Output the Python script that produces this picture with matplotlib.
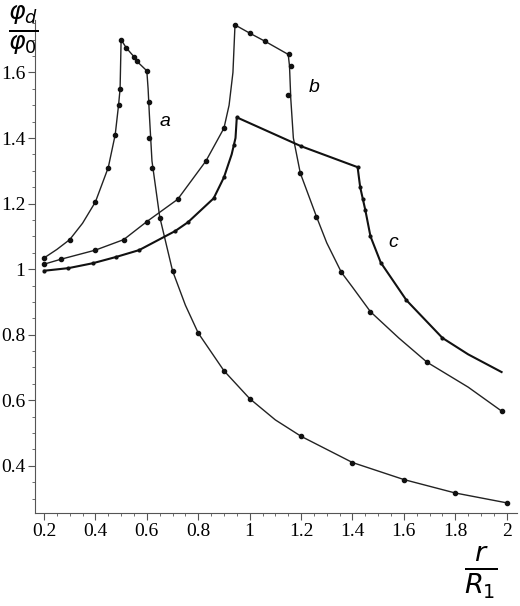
import matplotlib
matplotlib.use("Agg")
import matplotlib.pyplot as plt
from matplotlib.ticker import MultipleLocator

# curve a
a_x = [0.2, 0.25, 0.30, 0.35, 0.40, 0.45, 0.477, 0.49, 0.496, 0.50, 0.52, 0.55, 0.56, 0.60, 0.605, 0.61, 0.62, 0.65, 0.70, 0.75, 0.80, 0.90, 1.0, 1.1, 1.2, 1.4, 1.6, 1.8, 2.0]
a_y = [1.034, 1.06, 1.09, 1.14, 1.205, 1.31, 1.41, 1.50, 1.55, 1.70, 1.675, 1.648, 1.635, 1.605, 1.55, 1.47, 1.33, 1.16, 0.995, 0.89, 0.805, 0.69, 0.605, 0.54, 0.49, 0.41, 0.358, 0.317, 0.287]
a_mx = [0.2, 0.30, 0.40, 0.45, 0.477, 0.49, 0.496, 0.50, 0.52, 0.55, 0.56, 0.60, 0.61, 0.61, 0.62, 0.65, 0.70, 0.80, 0.90, 1.0, 1.2, 1.4, 1.6, 1.8, 2.0]
a_my = [1.034, 1.09, 1.205, 1.31, 1.41, 1.50, 1.55, 1.70, 1.675, 1.648, 1.635, 1.605, 1.51, 1.40, 1.31, 1.155, 0.995, 0.805, 0.69, 0.605, 0.49, 0.41, 0.358, 0.317, 0.287]

# curve b
b_x = [0.2, 0.265, 0.40, 0.51, 0.60, 0.72, 0.83, 0.90, 0.92, 0.935, 0.943, 1.0, 1.06, 1.15, 1.155, 1.16, 1.17, 1.197, 1.26, 1.30, 1.357, 1.40, 1.47, 1.58, 1.69, 1.85, 1.98]
b_y = [1.015, 1.03, 1.058, 1.09, 1.145, 1.213, 1.33, 1.43, 1.50, 1.60, 1.745, 1.72, 1.695, 1.655, 1.62, 1.52, 1.40, 1.293, 1.16, 1.08, 0.99, 0.945, 0.87, 0.79, 0.716, 0.64, 0.567]
b_mx = [0.2, 0.265, 0.40, 0.51, 0.60, 0.72, 0.83, 0.90, 0.943, 1.0, 1.06, 1.155, 1.16, 1.15, 1.197, 1.26, 1.357, 1.47, 1.69, 1.98]
b_my = [1.015, 1.03, 1.058, 1.09, 1.145, 1.213, 1.33, 1.43, 1.745, 1.72, 1.695, 1.655, 1.62, 1.53, 1.293, 1.16, 0.99, 0.87, 0.716, 0.567]

# curve c
c_x = [0.2, 0.295, 0.39, 0.48, 0.57, 0.71, 0.76, 0.86, 0.90, 0.93, 0.945, 0.95, 1.2, 1.42, 1.425, 1.43, 1.44, 1.45, 1.47, 1.51, 1.61, 1.75, 1.85, 1.98]
c_y = [0.995, 1.003, 1.018, 1.037, 1.058, 1.116, 1.143, 1.216, 1.28, 1.35, 1.40, 1.463, 1.375, 1.311, 1.28, 1.25, 1.215, 1.18, 1.10, 1.02, 0.905, 0.79, 0.74, 0.686]
c_mx = [0.2, 0.295, 0.39, 0.48, 0.57, 0.71, 0.76, 0.86, 0.90, 0.94, 0.95, 1.2, 1.42, 1.43, 1.44, 1.45, 1.47, 1.51, 1.61, 1.75]
c_my = [0.995, 1.003, 1.018, 1.037, 1.058, 1.116, 1.143, 1.216, 1.28, 1.38, 1.463, 1.375, 1.311, 1.25, 1.215, 1.18, 1.10, 1.02, 0.905, 0.79]

labels = ["a", "b", "c"]
label_pos = [(0.67, 1.45), (1.25, 1.555), (1.56, 1.08)]

fig = plt.figure(figsize=(5.2, 6.06), dpi=100)
ax = fig.add_axes([35/520, 93/606, 482/520, 493/606])
ax.set_xlim(0.165, 2.04)
ax.set_ylim(0.256, 1.76)

ax.plot(a_x, a_y, color="#222", lw=1.0)
ax.plot(a_mx, a_my, "o", color="#111", ms=3)
ax.plot(b_x, b_y, color="#222", lw=1.0)
ax.plot(b_mx, b_my, "o", color="#111", ms=3)
ax.plot(c_x, c_y, color="#111", lw=1.5)
ax.plot(c_mx, c_my, "o", color="#111", ms=2)

for lab, (x, y) in zip(labels, label_pos):
    ax.text(x, y, lab, fontsize=14, style="italic", family="Liberation Sans", ha="center", va="center")

for s in ["top", "right"]:
    ax.spines[s].set_visible(False)
ax.spines["left"].set_color("#555")
ax.spines["bottom"].set_color("#555")
ax.set_xticks([0.2, 0.4, 0.6, 0.8, 1.0, 1.2, 1.4, 1.6, 1.8, 2.0])
ax.set_xticklabels(["0.2", "0.4", "0.6", "0.8", "1", "1.2", "1.4", "1.6", "1.8", "2"])
ax.set_yticks([0.4, 0.6, 0.8, 1.0, 1.2, 1.4, 1.6])
ax.set_yticklabels(["0.4", "0.6", "0.8", "1", "1.2", "1.4", "1.6"])
ax.xaxis.set_minor_locator(MultipleLocator(0.05))
ax.yaxis.set_minor_locator(MultipleLocator(0.05))
ax.tick_params(which="major", length=5, color="#555", labelsize=14, pad=2)
ax.tick_params(which="minor", length=2.5, color="#555")
for t in ax.get_xticklabels() + ax.get_yticklabels():
    t.set_family("Liberation Serif")

fig.text(0.045, 0.95, r"$\frac{\varphi_d}{\varphi_0}$", fontsize=26, ha="center", va="center")
fig.text(0.925, 0.055, r"$\frac{r}{R_1}$", fontsize=28, ha="center", va="center")

fig.savefig("out.png", dpi=100)
